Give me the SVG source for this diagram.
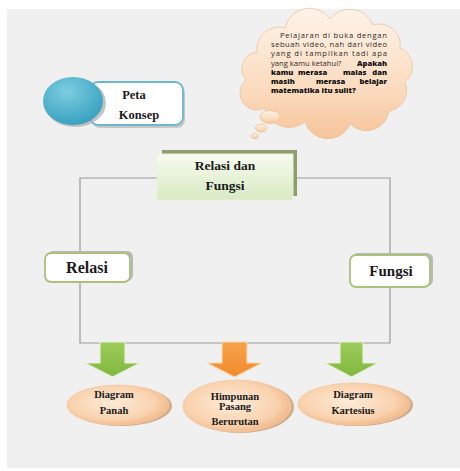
<svg xmlns="http://www.w3.org/2000/svg" width="460" height="471" viewBox="0 0 460 471">
<defs>
<linearGradient id="cloudG" x1="0" y1="0" x2="0" y2="1">
<stop offset="0" stop-color="#fef3e8"/><stop offset="0.6" stop-color="#fbdcc0"/><stop offset="1" stop-color="#f6c49a"/>
</linearGradient>
<radialGradient id="tealG" cx="0.4" cy="0.3" r="0.8">
<stop offset="0" stop-color="#7dcde0"/><stop offset="1" stop-color="#2f9cbc"/>
</radialGradient>
<linearGradient id="greenBox" x1="0" y1="0" x2="0" y2="1">
<stop offset="0" stop-color="#f7fbf0"/><stop offset="1" stop-color="#d8eac2"/>
</linearGradient>
<radialGradient id="peach" cx="0.45" cy="0.45" r="0.6">
<stop offset="0" stop-color="#fdebd8"/><stop offset="0.7" stop-color="#f9d2ae"/><stop offset="1" stop-color="#f0b384"/>
</radialGradient>
<linearGradient id="greenArrow" x1="0" y1="0" x2="0" y2="1">
<stop offset="0" stop-color="#9ccc5a"/><stop offset="1" stop-color="#7fb83e"/>
</linearGradient>
<linearGradient id="orangeArrow" x1="0" y1="0" x2="0" y2="1">
<stop offset="0" stop-color="#f8a24c"/><stop offset="1" stop-color="#f08a2c"/>
</linearGradient>
</defs>
<style>
.serif{font-family:"Liberation Serif","Times New Roman",serif;font-weight:bold;fill:#1a1a1a;text-anchor:middle}
.ct{font-family:"Open Sans","Liberation Sans",sans-serif;font-size:7.6px;fill:#2a2a2a}
.cb{font-family:"Open Sans","Liberation Sans",sans-serif;font-size:7.6px;font-weight:800;fill:#111}
.end{text-anchor:end}
.conn{stroke:#9a9a9a;stroke-width:1.2;fill:none}
.arrow{stroke:#e6f0d8;stroke-width:1.2}
.pshadow{fill:#c58d5c;opacity:0.7}
.pell{fill:url(#peach);stroke:#f3c9a3;stroke-width:0.8}
.bub{fill:url(#cloudG);stroke:#e9c39b;stroke-width:0.8}
</style>
<rect x="0" y="0" width="460" height="471" fill="#ffffff"/>
<rect x="7" y="9" width="453" height="459" fill="#f0f0f0"/>

<g id="connectors">
<path class="conn" d="M157 178 H80 V253 M80 282 V343 H390 V288 M390 255 V178 H297"/>
</g>

<g id="cloud">
<path class="bub" d="M257 52 A22 22 0 0 1 285 28 A25 25 0 0 1 330 19 A25 25 0 0 1 373 25 A21 21 0 0 1 400 48 A20 20 0 0 1 405 82 A21 21 0 0 1 389 111 A23 23 0 0 1 350 124 A24 24 0 0 1 305 122 A25 25 0 0 1 265 108 A17 17 0 0 1 246 80 A17 17 0 0 1 257 52 Z"/>
<ellipse class="bub" cx="270" cy="117" rx="10" ry="6.5"/>
<ellipse class="bub" cx="261" cy="128" rx="5.5" ry="4"/>
<ellipse class="bub" cx="255" cy="136" rx="3.5" ry="2.6"/>
<text class="ct" x="280" y="38" textLength="107" lengthAdjust="spacing">Pelajaran di buka dengan</text>
<text class="ct" x="271" y="47.2" textLength="116" lengthAdjust="spacing">sebuah video, nah dari video</text>
<text class="ct" x="271" y="56.4" textLength="116" lengthAdjust="spacing">yang di tampilkan tadi apa</text>
<text class="ct" x="271" y="65.6">yang kamu ketahui? </text>
<text class="cb end" x="387" y="65.6">Apakah</text>
<text class="cb" x="271" y="74.8">kamu</text>
<text class="cb" x="298" y="74.8">merasa</text>
<text class="cb" x="343" y="74.8">malas</text>
<text class="cb end" x="387" y="74.8">dan</text>
<text class="cb" x="271" y="84">masih</text>
<text class="cb" x="316" y="84">merasa</text>
<text class="cb end" x="387" y="84">belajar</text>
<text class="cb" x="271" y="93.2">matematika itu sulit?</text>
</g>

<g id="peta-konsep">
<rect x="92" y="85" width="93" height="43" rx="8" fill="#bdbdbd" opacity="0.8"/>
<rect x="90" y="82" width="93" height="43" rx="8" fill="#ffffff" stroke="#6bb8cc" stroke-width="1.8"/>
<ellipse cx="75" cy="103" rx="31" ry="24" fill="#a9a9a9" opacity="0.7"/>
<ellipse cx="73" cy="101" rx="30" ry="24" fill="url(#tealG)"/>
<text class="serif" x="134" y="99" font-size="12.5">Peta</text>
<text class="serif" x="139" y="119" font-size="12.5">Konsep</text>
</g>

<g id="relasi-dan-fungsi">
<rect x="162" y="150" width="135" height="46" fill="#8e9c6e"/>
<rect x="157" y="154" width="136" height="46" fill="url(#greenBox)" stroke="#e8f1dc" stroke-width="1"/>
<text class="serif" x="225" y="170" font-size="13.5">Relasi  dan</text>
<text class="serif" x="225" y="190" font-size="13.5">Fungsi</text>
</g>

<g id="relasi">
<rect x="47" y="251" width="86" height="30" rx="6" fill="#b8b8b8"/>
<rect x="45" y="253" width="85" height="29" rx="6" fill="#ffffff" stroke="#a9c37a" stroke-width="1.8"/>
<text class="serif" x="87" y="273" font-size="16">Relasi</text>
</g>

<g id="fungsi">
<rect x="352" y="253" width="81" height="33" rx="6" fill="#b8b8b8"/>
<rect x="350" y="255" width="80" height="32" rx="6" fill="#ffffff" stroke="#a9c37a" stroke-width="1.8"/>
<text class="serif" x="391" y="276" font-size="15">Fungsi</text>
</g>

<g id="arrow-1">
<polygon class="arrow" points="100,342 125,342 125,363 140,363 112.5,377 85,363 100,363" fill="url(#greenArrow)"/>
</g>
<g id="arrow-2">
<polygon class="arrow" points="222,342 247,342 247,363 262,363 234.5,377 207,363 222,363" fill="url(#orangeArrow)" style="stroke:#fbd7b0"/>
</g>
<g id="arrow-3">
<polygon class="arrow" points="340,342 363,342 363,363 378,363 351.5,377 325,363 340,363" fill="url(#greenArrow)"/>
</g>

<g id="diagram-panah">
<ellipse class="pshadow" cx="121" cy="406" rx="51" ry="20"/>
<ellipse class="pell" cx="118" cy="405" rx="51" ry="20"/>
<text class="serif" x="114" y="398" font-size="10.5">Diagram</text>
<text class="serif" x="114" y="414" font-size="10.5">Panah</text>
</g>

<g id="himpunan">
<ellipse class="pshadow" cx="240" cy="407" rx="54" ry="26"/>
<ellipse class="pell" cx="237" cy="406" rx="54" ry="26"/>
<text class="serif" x="235" y="400" font-size="10.5">Himpunan</text>
<text class="serif" x="235" y="410" font-size="10.5">Pasang</text>
<text class="serif" x="235" y="425" font-size="10.5">Berurutan</text>
</g>

<g id="diagram-kartesius">
<ellipse class="pshadow" cx="357" cy="405" rx="56" ry="21"/>
<ellipse class="pell" cx="354" cy="404" rx="56" ry="21"/>
<text class="serif" x="353" y="398" font-size="10.5">Diagram</text>
<text class="serif" x="353" y="414" font-size="10.5">Kartesius</text>
</g>
</svg>
